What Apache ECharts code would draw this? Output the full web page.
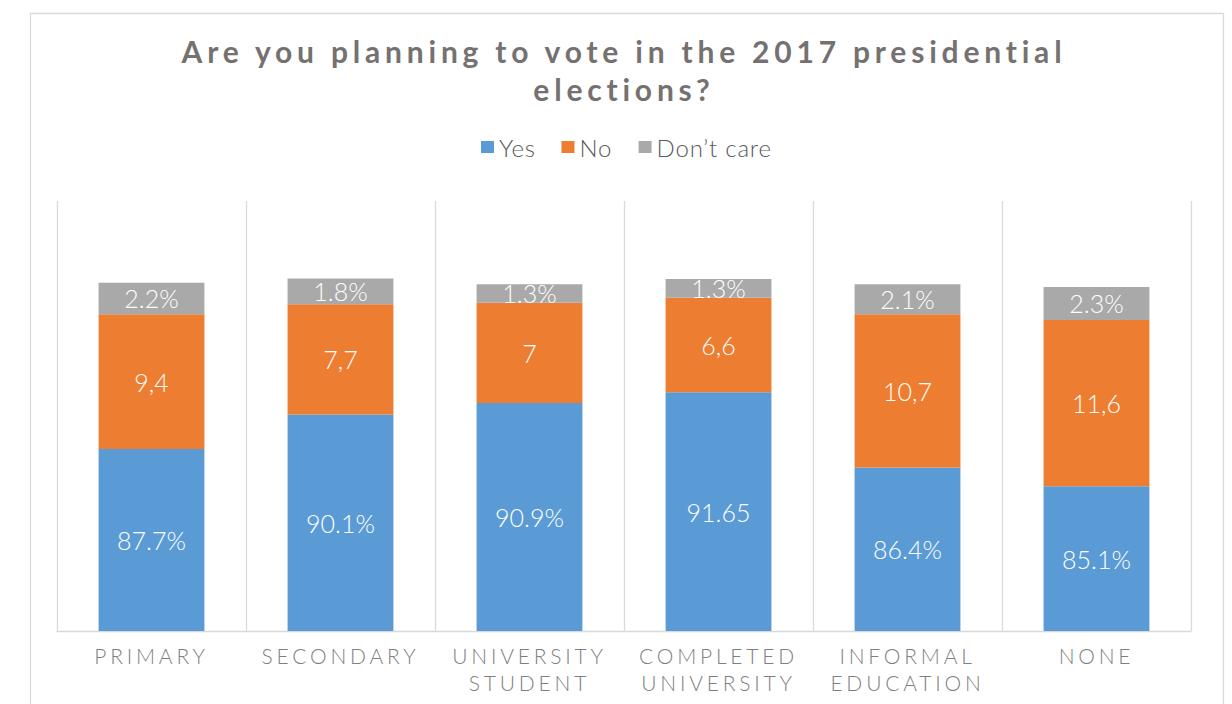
<!DOCTYPE html>
<html>
<head>
<meta charset="utf-8">
<script src="https://cdn.jsdelivr.net/npm/echarts@6/dist/echarts.min.js"></script>
<style>
html,body{margin:0;padding:0;background:#fff;}
#chart{width:1232px;height:704px;}
</style>
</head>
<body>
<div id="chart"></div>
<script>
const titleText = 'Are you planning to vote in the 2017 presidential\nelections?';
const categories = ['PRIMARY', 'SECONDARY', 'UNIVERSITY\nSTUDENT', 'COMPLETED\nUNIVERSITY', 'INFORMAL\nEDUCATION', 'NONE'];
const seriesNames = ['Yes', 'No', 'Don\u2019t care'];
const yesValues = [87.7, 90.1, 90.9, 91.65, 86.4, 85.1];
const noValues = [9.4, 7.7, 7, 6.6, 10.7, 11.6];
const dontCareValues = [2.2, 1.8, 1.3, 1.3, 2.1, 2.3];
const yesLabels = ['87.7%', '90.1%', '90.9%', '91.65', '86.4%', '85.1%'];
const noLabels = ['9,4', '7,7', '7', '6,6', '10,7', '11,6'];
const dontCareLabels = ['2.2%', '1.8%', '1.3%', '1.3%', '2.1%', '2.3%'];
const axisMin = 75;
const axisMax = 105;

const colors = ['#5B9BD5', '#ED7D31', '#A9A9A9'];
const chart = echarts.init(document.getElementById('chart'), null, {renderer: 'svg'});

function labelCfg(arr) {
  return {
    show: true,
    position: 'inside',
    color: '#ffffff',
    fontFamily: 'Lato',
    fontWeight: 300,
    fontSize: 25,
    formatter: p => arr[p.dataIndex]
  };
}

const option = {
  animation: false,
  color: colors,
  title: {
    text: titleText,
    left: 624,
    top: 32,
    padding: 0,
    textAlign: 'center',
    textStyle: {
      fontFamily: 'Lato',
      fontWeight: 'bold',
      fontSize: 30,
      lineHeight: 38,
      color: '#757171'
    }
  },
  legend: {
    data: seriesNames,
    left: 481,
    top: 135,
    padding: 0,
    itemWidth: 13,
    itemHeight: 12,
    itemGap: 28,
    icon: 'rect',
    textStyle: {
      fontFamily: 'Lato',
      fontWeight: 300,
      fontSize: 24,
      color: '#595959'
    }
  },
  grid: {
    left: 57,
    right: 41,
    top: 201,
    bottom: 73,
    outerBoundsMode: 'none',
    containLabel: false
  },
  graphic: [{
    type: 'rect',
    left: 28,
    top: 11,
    shape: {width: 1193, height: 720},
    style: {fill: 'none', stroke: '#D9D9D9', lineWidth: 1.3},
    silent: true,
    z: -10
  }],
  xAxis: {
    type: 'category',
    data: categories,
    axisLine: {show: true, lineStyle: {color: '#D9D9D9', width: 1.3}},
    axisTick: {show: false},
    splitLine: {show: true, lineStyle: {color: '#D9D9D9', width: 1.3}},
    axisLabel: {
      interval: 0,
      margin: 11,
      fontFamily: 'Lato',
      fontWeight: 300,
      fontSize: 21,
      lineHeight: 27,
      color: '#7F7F7F'
    }
  },
  yAxis: {
    type: 'value',
    min: axisMin,
    max: axisMax,
    startValue: axisMin,
    show: false,
    splitLine: {show: false}
  },
  series: [
    {name: seriesNames[0], type: 'bar', stack: 'total', barWidth: '56%', data: yesValues, label: labelCfg(yesLabels)},
    {name: seriesNames[1], type: 'bar', stack: 'total', data: noValues, label: labelCfg(noLabels)},
    {name: seriesNames[2], type: 'bar', stack: 'total', data: dontCareValues, label: labelCfg(dontCareLabels)}
  ]
};
chart.setOption(option);

const spacingBySize = {'30px': '4.8', '21px': '3.8', '24px': '0.8'};
function applySpacing() {
  document.querySelectorAll('#chart svg text').forEach(t => {
    const fs = getComputedStyle(t).fontSize;
    if (spacingBySize[fs]) t.setAttribute('letter-spacing', spacingBySize[fs]);
  });
}
applySpacing();
chart.on('finished', applySpacing);
setTimeout(applySpacing, 50);
</script>
</body>
</html>
